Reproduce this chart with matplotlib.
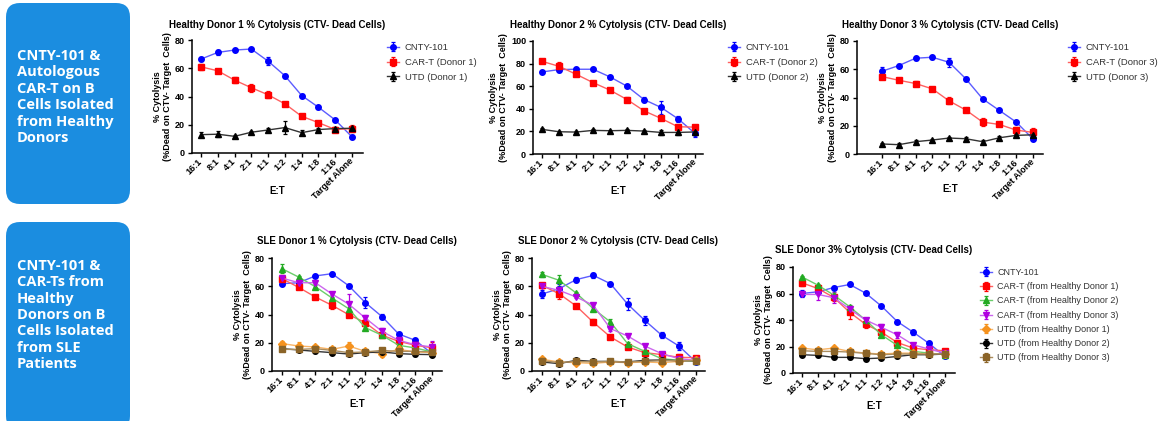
import matplotlib.pyplot as plt
from matplotlib.patches import FancyBboxPatch
import numpy as np

plt.rcParams['font.family'] = ['Liberation Sans', 'DejaVu Sans']

# Effector:Target ratios (x categories)
ratios = ['16:1', '8:1', '4:1', '2:1', '1:1', '1:2', '1:4', '1:8', '1:16', 'Target Alone']

# --- Healthy donor panels ---
hd1_cnty = [66.5, 71.2, 72.9, 73.6, 65.0, 54.7, 40.7, 32.4, 23.4, 11.4]
hd1_cnty_err = [1.5, 2.0, 1.0, 1.0, 3.0, 1.5, 1.0, 1.0, 1.0, 1.0]
hd1_cart = [61.0, 58.2, 51.6, 46.2, 41.2, 34.8, 26.0, 21.5, 16.6, 17.3]
hd1_cart_err = [2.0, 1.0, 2.0, 3.0, 2.5, 1.5, 1.5, 1.0, 2.0, 2.5]
hd1_utd = [13.0, 13.3, 11.8, 14.7, 16.3, 18.0, 14.4, 16.6, 17.3, 17.5]
hd1_utd_err = [2.0, 2.0, 1.0, 1.0, 1.5, 4.5, 2.0, 1.0, 1.0, 1.0]

hd2_cnty = [72.6, 74.7, 75.0, 75.0, 68.2, 60.0, 48.2, 41.2, 31.2, 18.2]
hd2_cnty_err = [1.0, 2.0, 1.0, 1.0, 1.0, 1.0, 2.0, 6.0, 2.5, 3.0]
hd2_cart = [82.0, 77.6, 70.6, 63.2, 56.5, 48.2, 38.2, 31.5, 24.1, 23.8]
hd2_cart_err = [1.0, 4.0, 1.5, 1.0, 2.0, 2.5, 1.0, 1.0, 1.5, 1.5]
hd2_utd = [21.8, 19.7, 19.4, 20.9, 20.6, 20.9, 20.3, 19.1, 19.1, 19.5]
hd2_utd_err = [1.0, 1.0, 1.0, 1.0, 1.0, 1.0, 1.0, 2.5, 2.0, 1.0]

hd3_cnty = [58.6, 62.6, 67.8, 68.5, 64.9, 53.2, 39.0, 30.8, 22.6, 10.6]
hd3_cnty_err = [3.0, 1.0, 1.0, 1.0, 3.0, 1.5, 1.0, 1.0, 1.0, 1.0]
hd3_cart = [54.8, 52.2, 49.9, 46.1, 37.6, 31.1, 22.6, 20.9, 16.9, 15.3]
hd3_cart_err = [1.5, 1.5, 1.5, 1.0, 2.5, 1.0, 3.0, 1.0, 2.5, 3.0]
hd3_utd = [7.1, 6.6, 8.7, 9.9, 11.3, 10.8, 8.7, 11.5, 13.2, 13.6]
hd3_utd_err = [1.0, 1.0, 1.0, 1.0, 1.0, 1.0, 1.0, 1.0, 1.0, 1.0]

# --- SLE donor panels ---
sle1_cnty = [61.8, 62.5, 67.3, 68.9, 60.4, 48.4, 38.5, 26.2, 21.7, 12.3]
sle1_cnty_err = [1.0, 1.0, 1.0, 1.5, 1.0, 4.0, 2.0, 1.0, 1.0, 1.5]
sle1_car1 = [65.4, 59.2, 52.4, 46.5, 39.9, 34.2, 25.3, 21.0, 18.2, 16.5]
sle1_car1_err = [2.5, 1.0, 1.0, 2.5, 1.0, 2.5, 1.0, 1.0, 1.0, 4.0]
sle1_car2 = [72.4, 66.5, 59.7, 51.7, 44.1, 30.7, 25.3, 18.2, 16.3, 13.5]
sle1_car2_err = [3.0, 1.0, 1.0, 1.0, 1.0, 1.0, 1.0, 1.0, 1.0, 1.0]
sle1_car3 = [65.8, 62.5, 62.5, 54.5, 47.4, 37.5, 28.1, 21.7, 18.6, 17.0]
sle1_car3_err = [1.0, 1.0, 1.0, 1.0, 7.0, 2.0, 2.0, 1.0, 1.0, 4.0]
sle1_utd1 = [19.4, 17.7, 17.0, 15.3, 17.7, 13.9, 12.3, 15.3, 13.5, 13.0]
sle1_utd1_err = [1.5, 3.0, 1.0, 1.0, 3.0, 1.0, 2.5, 1.0, 1.0, 1.0]
sle1_utd2 = [15.8, 14.9, 13.9, 13.0, 12.0, 13.0, 13.5, 12.3, 11.8, 11.6]
sle1_utd2_err = [1.0, 1.0, 1.0, 1.0, 1.0, 1.0, 1.0, 1.0, 1.0, 1.0]
sle1_utd3 = [15.3, 15.3, 15.8, 14.6, 13.0, 13.5, 14.6, 13.9, 13.9, 13.5]
sle1_utd3_err = [1.0, 1.0, 1.0, 1.0, 1.0, 1.0, 1.0, 1.0, 1.0, 1.0]

sle2_cnty = [54.5, 58.3, 64.7, 67.7, 61.8, 47.4, 35.9, 25.3, 17.7, 6.4]
sle2_cnty_err = [2.5, 3.0, 1.5, 2.0, 1.0, 4.0, 3.0, 2.0, 3.0, 1.0]
sle2_car1 = [60.6, 54.7, 46.0, 34.5, 24.1, 17.0, 13.0, 11.6, 9.7, 9.4]
sle2_car1_err = [2.0, 4.0, 1.5, 2.0, 1.0, 1.0, 1.0, 1.0, 1.0, 1.0]
sle2_car2 = [68.4, 64.2, 55.2, 44.1, 34.7, 19.4, 13.9, 8.7, 7.6, 6.8]
sle2_car2_err = [1.5, 4.0, 1.0, 1.0, 2.0, 1.0, 1.0, 1.0, 1.0, 1.0]
sle2_car3 = [59.9, 57.1, 52.4, 46.5, 30.0, 24.8, 17.7, 12.3, 8.7, 7.6]
sle2_car3_err = [1.0, 1.0, 1.0, 1.5, 1.5, 1.0, 1.0, 1.0, 3.0, 1.0]
sle2_utd1 = [8.3, 6.4, 5.9, 5.4, 6.4, 5.9, 6.4, 5.9, 6.8, 7.8]
sle2_utd1_err = [1.0, 1.0, 1.0, 1.0, 1.0, 1.0, 1.0, 1.0, 1.0, 1.0]
sle2_utd2 = [6.4, 5.2, 7.6, 6.8, 6.8, 6.4, 7.6, 7.8, 7.3, 7.3]
sle2_utd2_err = [1.0, 1.0, 1.0, 1.0, 1.0, 1.0, 1.0, 1.0, 1.0, 1.0]
sle2_utd3 = [7.3, 5.9, 6.8, 6.4, 6.8, 6.4, 6.8, 7.3, 7.3, 7.3]
sle2_utd3_err = [1.0, 1.0, 1.0, 1.0, 1.0, 1.0, 1.0, 1.0, 1.0, 1.0]

sle3_cnty = [60.0, 61.3, 64.5, 66.8, 60.3, 50.5, 38.8, 30.8, 22.3, 12.5]
sle3_cnty_err = [2.5, 1.0, 1.0, 1.0, 1.0, 1.0, 1.0, 2.0, 1.0, 1.0]
sle3_car1 = [68.0, 63.8, 57.0, 45.8, 36.8, 30.8, 23.0, 18.8, 17.5, 16.8]
sle3_car1_err = [2.0, 2.0, 3.0, 5.0, 3.0, 2.5, 2.0, 1.0, 1.0, 1.0]
sle3_car2 = [72.5, 66.3, 58.8, 50.0, 40.0, 28.8, 20.8, 16.3, 15.0, 13.8]
sle3_car2_err = [1.0, 1.0, 1.0, 1.0, 1.0, 1.5, 1.5, 1.0, 1.0, 1.0]
sle3_car3 = [59.3, 59.3, 56.8, 48.3, 40.0, 34.5, 28.8, 21.3, 18.0, 15.0]
sle3_car3_err = [1.0, 4.0, 4.0, 1.0, 1.0, 2.5, 2.5, 1.0, 1.0, 1.0]
sle3_utd1 = [18.8, 17.5, 18.8, 16.3, 15.0, 14.3, 15.0, 15.0, 14.3, 14.3]
sle3_utd1_err = [1.0, 1.0, 1.5, 1.0, 1.0, 1.0, 1.0, 1.0, 1.0, 1.0]
sle3_utd2 = [13.8, 13.3, 11.8, 11.8, 10.8, 11.3, 12.5, 13.8, 13.8, 14.3]
sle3_utd2_err = [1.0, 1.0, 1.0, 1.0, 1.0, 1.0, 1.0, 1.0, 1.0, 1.0]
sle3_utd3 = [16.8, 16.3, 16.3, 15.8, 14.8, 13.8, 14.3, 14.3, 14.3, 14.3]
sle3_utd3_err = [1.0, 1.0, 1.0, 1.0, 1.0, 1.0, 1.0, 1.0, 1.0, 1.0]

# colours: (marker colour, lighter line colour)
BLUE = ('#0000ff', '#5c5cff')
RED = ('#ff0000', '#ff6060')
BLACK = ('#000000', '#333333')
GREEN = ('#22aa22', '#6acd6a')
PURPLE = ('#b000e0', '#cc66ee')
ORANGE = ('#f5921e', '#f8b466')
BROWN = ('#8b6428', '#ab8d5e')

W, H = 1163, 421
fig = plt.figure(figsize=(W / 100, H / 100), dpi=100)

# blue side boxes with the row captions
box_color = '#1b8de0'
for (y0, y1, txt, ty) in [
        (3, 204, 'CNTY-101 &\nAutologous\nCAR-T on B\nCells Isolated\nfrom Healthy\nDonors', 97),
        (222, 430, 'CNTY-101 &\nCAR-Ts from\nHealthy\nDonors on B\nCells Isolated\nfrom SLE\nPatients', 315)]:
    box = FancyBboxPatch((6 / W, 1 - y1 / H), 124 / W, (y1 - y0) / H,
                         boxstyle='round,pad=0,rounding_size=0.012',
                         transform=fig.transFigure, facecolor=box_color,
                         edgecolor='none', mutation_aspect=W / H)
    fig.add_artist(box)
    fig.text(17 / W, 1 - ty / H, txt, color='white', fontsize=10.5,
             fontweight='bold', family='Open Sans', va='center', ha='left',
             linespacing=1.22)


def make_axes(x0, x1, ytop, ybot, first, last):
    ax = fig.add_axes([x0 / W, 1 - ybot / H, (x1 - x0) / W, (ybot - ytop) / H])
    sp = (last - first) / 9
    ax.set_xlim((x0 - first) / sp, (x1 - first) / sp)
    ax._px_box = (ytop, ybot)
    return ax


def draw_panel(ax, title, series, ymax, title_pad, et_px):
    x = np.arange(len(ratios))
    for label, y, err, (c, lc), m in series:
        ax.errorbar(x, y, yerr=err, color=lc, ecolor=c, mfc=c, mec=c,
                    marker=m, ms=4, lw=1.0, elinewidth=0.9, capsize=1.6,
                    capthick=0.9, label=label)
    ax.set_ylim(0, ymax)
    ax.set_yticks(np.arange(0, ymax + 1, 20))
    ax.set_xticks(x)
    ax.set_xticklabels(ratios, rotation=45, ha='right', va='center',
                       rotation_mode='anchor', fontsize=6.5, fontweight='bold')
    for t in ax.get_yticklabels():
        t.set_fontsize(6.5)
        t.set_fontweight('bold')
    for s in ['top', 'right']:
        ax.spines[s].set_visible(False)
    for s in ['left', 'bottom']:
        ax.spines[s].set_linewidth(1.1)
    ax.tick_params(length=3, width=1, pad=2)
    ax.set_ylabel('% Cytolysis\n(%Dead on CTV- Target  Cells)', fontsize=6.5,
                  fontweight='bold', linespacing=1.15, labelpad=2)
    ax.set_xlabel('E:T', fontsize=7, fontweight='bold')
    # E:T sits beside the slanted tick labels, as in the original
    ytop, ybot = ax._px_box
    ax.xaxis.set_label_coords(0.5, -((et_px - 4) - ybot) / (ybot - ytop))
    ax.set_title(title, fontsize=7, fontweight='bold', pad=title_pad)


def add_legend(ax, hx, top_px, spacing, fs):
    ax.legend(loc='upper left', bbox_to_anchor=(hx / W, 1 - top_px / H),
              bbox_transform=fig.transFigure, frameon=False, fontsize=fs,
              handlelength=1.3, handletextpad=0.6, labelspacing=spacing,
              borderpad=0, borderaxespad=0, labelcolor='#333333')


# top row
ax1 = make_axes(192, 363, 40, 153, 201, 352)
draw_panel(ax1, 'Healthy Donor 1 % Cytolysis (CTV- Dead Cells)', [
    ('CNTY-101', hd1_cnty, hd1_cnty_err, BLUE, 'o'),
    ('CAR-T (Donor 1)', hd1_cart, hd1_cart_err, RED, 's'),
    ('UTD (Donor 1)', hd1_utd, hd1_utd_err, BLACK, '^')], 80, 9, 190)
add_legend(ax1, 387, 43, 0.62, 6.8)

ax2 = make_axes(533, 703, 41, 154, 542, 695)
draw_panel(ax2, 'Healthy Donor 2 % Cytolysis (CTV- Dead Cells)', [
    ('CNTY-101', hd2_cnty, hd2_cnty_err, BLUE, 'o'),
    ('CAR-T (Donor 2)', hd2_cart, hd2_cart_err, RED, 's'),
    ('UTD (Donor 2)', hd2_utd, hd2_utd_err, BLACK, '^')], 100, 9, 190)
add_legend(ax2, 728, 43, 0.62, 6.8)

ax3 = make_axes(857, 1043, 41, 154, 882, 1033)
draw_panel(ax3, 'Healthy Donor 3 % Cytolysis (CTV- Dead Cells)', [
    ('CNTY-101', hd3_cnty, hd3_cnty_err, BLUE, 'o'),
    ('CAR-T (Donor 3)', hd3_cart, hd3_cart_err, RED, 's'),
    ('UTD (Donor 3)', hd3_utd, hd3_utd_err, BLACK, '^')], 80, 9, 188)
add_legend(ax3, 1068, 43, 0.62, 6.8)

# bottom row
def sle_series(cnty, ce, c1, e1, c2, e2, c3, e3, u1, ue1, u2, ue2, u3, ue3):
    return [
        ('CNTY-101', cnty, ce, BLUE, 'o'),
        ('CAR-T (from Healthy Donor 1)', c1, e1, RED, 's'),
        ('CAR-T (from Healthy Donor 2)', c2, e2, GREEN, '^'),
        ('CAR-T (from Healthy Donor 3)', c3, e3, PURPLE, 'v'),
        ('UTD (from Healthy Donor 1)', u1, ue1, ORANGE, 'D'),
        ('UTD (from Healthy Donor 2)', u2, ue2, BLACK, 'o'),
        ('UTD (from Healthy Donor 3)', u3, ue3, BROWN, 's')]


ax4 = make_axes(272, 442, 258, 371, 282, 432)
draw_panel(ax4, 'SLE Donor 1 % Cytolysis (CTV- Dead Cells)', sle_series(
    sle1_cnty, sle1_cnty_err, sle1_car1, sle1_car1_err, sle1_car2, sle1_car2_err,
    sle1_car3, sle1_car3_err, sle1_utd1, sle1_utd1_err, sle1_utd2, sle1_utd2_err,
    sle1_utd3, sle1_utd3_err), 80, 10, 403)

ax5 = make_axes(532, 705, 258, 371, 542, 696)
draw_panel(ax5, 'SLE Donor 2 % Cytolysis (CTV- Dead Cells)', sle_series(
    sle2_cnty, sle2_cnty_err, sle2_car1, sle2_car1_err, sle2_car2, sle2_car2_err,
    sle2_car3, sle2_car3_err, sle2_utd1, sle2_utd1_err, sle2_utd2, sle2_utd2_err,
    sle2_utd3, sle2_utd3_err), 80, 10, 403)

ax6 = make_axes(793, 955, 267, 373, 802, 945)
draw_panel(ax6, 'SLE Donor 3% Cytolysis (CTV- Dead Cells)', sle_series(
    sle3_cnty, sle3_cnty_err, sle3_car1, sle3_car1_err, sle3_car2, sle3_car2_err,
    sle3_car3, sle3_car3_err, sle3_utd1, sle3_utd1_err, sle3_utd2, sle3_utd2_err,
    sle3_utd3, sle3_utd3_err), 80, 10, 405)
add_legend(ax6, 980, 268, 0.58, 6.5)

fig.savefig('out.png', dpi=100)
